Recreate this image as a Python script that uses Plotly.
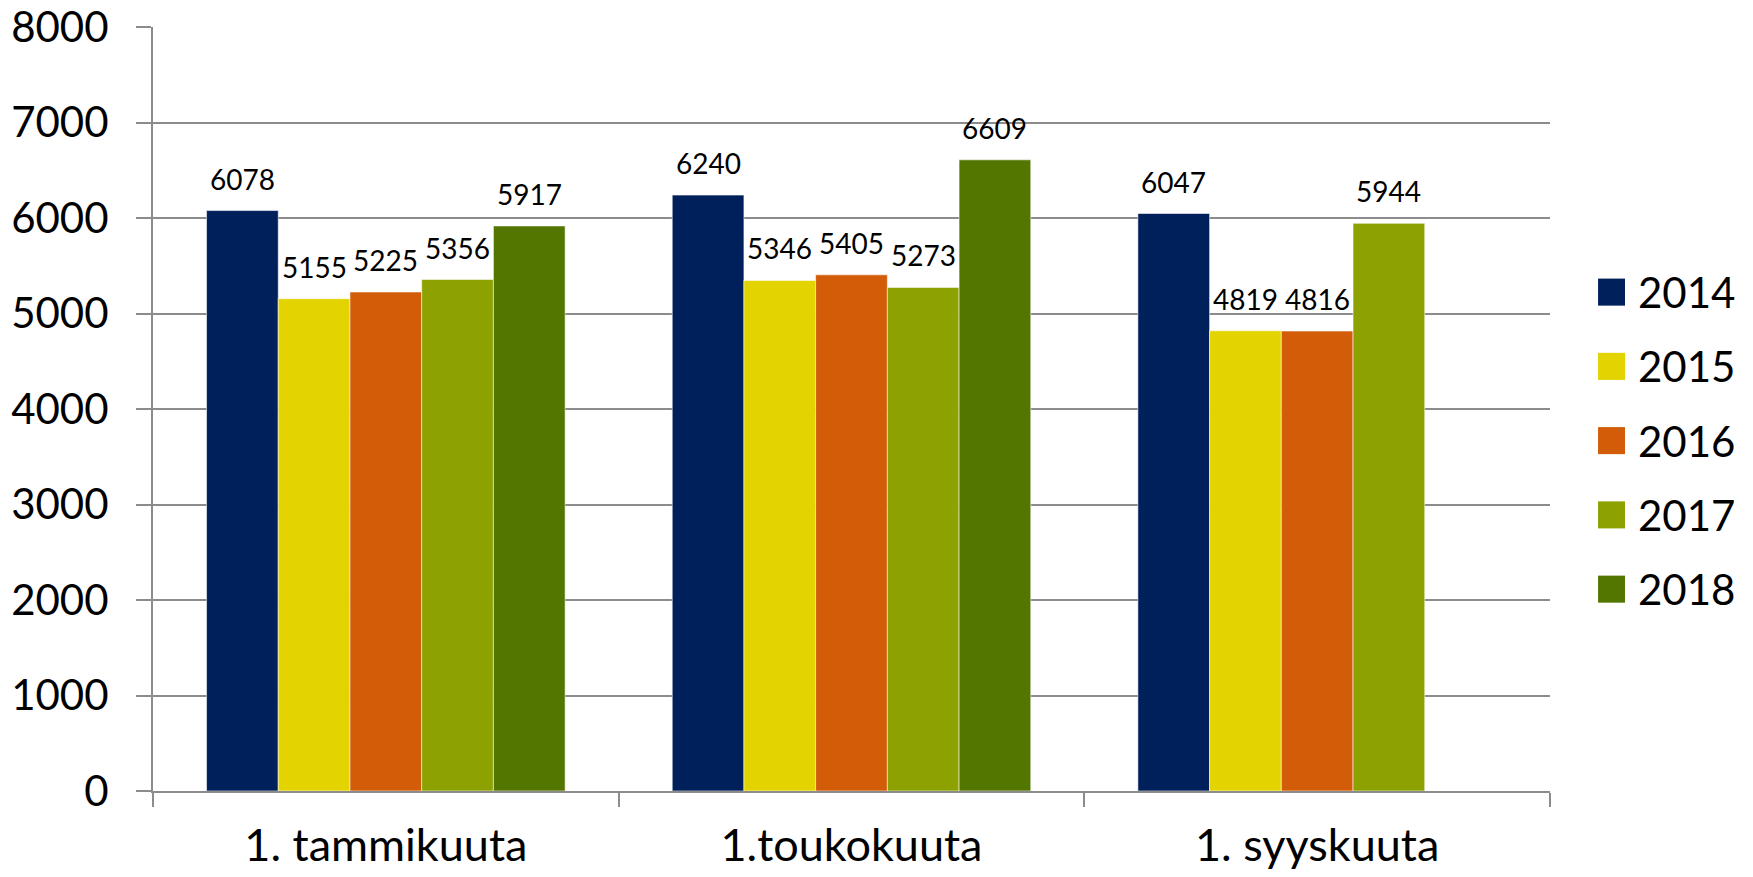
import plotly.graph_objects as go

categories = ["1. tammikuuta", "1.toukokuuta", "1. syyskuuta"]
series_names = ["2014", "2015", "2016", "2017", "2018"]
values_2014 = [6078, 6240, 6047]
values_2015 = [5155, 5346, 4819]
values_2016 = [5225, 5405, 4816]
values_2017 = [5356, 5273, 5944]
values_2018 = [5917, 6609, None]
colors = ["#00205B", "#E3D300", "#D25C08", "#8DA200", "#527600"]
y_ticks = [0, 1000, 2000, 3000, 4000, 5000, 6000, 7000, 8000]

all_values = [values_2014, values_2015, values_2016, values_2017, values_2018]

FONT = "Lato"
GRID = "#8C8C8C"
BARGAP = 0.23

fig = go.Figure()
for name, vals, col in zip(series_names, all_values, colors):
    fig.add_trace(go.Bar(
        x=categories, y=vals, name=name,
        marker=dict(color=col, line=dict(color="rgba(255,255,255,0.55)", width=1)),
        showlegend=False,
    ))

# data labels
n = len(series_names)
annotations = []
for j, vals in enumerate(all_values):
    for i, v in enumerate(vals):
        if v is None:
            continue
        xpos = i - (1 - BARGAP) / 2 + (j + 0.5) * (1 - BARGAP) / n
        annotations.append(dict(
            x=xpos, y=v, xref="x", yref="y", text=str(v), showarrow=False,
            yanchor="middle", xanchor="center", yshift=32,
            font=dict(family=FONT, size=28, color="#000000"),
        ))

# manual legend
shapes = []
lx0, lx1, ltext = 1.0344, 1.0537, 1.0615
ly_top, ly_step, half = 0.653, 0.0972, 0.0177
for k, (name, col) in enumerate(zip(series_names, colors)):
    yc = ly_top - k * ly_step
    shapes.append(dict(type="rect", xref="paper", yref="paper",
                       x0=lx0, x1=lx1, y0=yc - half, y1=yc + half,
                       fillcolor=col, line=dict(width=0)))
    annotations.append(dict(x=ltext, y=yc, xref="paper", yref="paper", text=name,
                            showarrow=False, xanchor="left", yanchor="middle",
                            font=dict(family=FONT, size=42, color="#000000")))

fig.update_layout(
    width=1753, height=877,
    margin=dict(l=153, r=203, t=27, b=86, autoexpand=False),
    paper_bgcolor="white", plot_bgcolor="white",
    barmode="group", bargap=BARGAP, bargroupgap=0,
    showlegend=False,
    annotations=annotations, shapes=shapes,
    font=dict(family=FONT, color="#000000"),
)
fig.update_xaxes(
    type="category", tickson="boundaries", ticks="outside", ticklen=14,
    tickcolor=GRID, tickwidth=2, showline=True, linecolor=GRID, linewidth=2,
    showgrid=False, tickfont=dict(family=FONT, size=45, color="#000000"),
    ticklabelstandoff=14, automargin=False,
)
fig.update_yaxes(
    range=[0, 8000], tickvals=y_ticks, ticktext=[str(t) for t in y_ticks],
    showgrid=True, gridcolor=GRID, gridwidth=2,
    ticks="outside", ticklen=15, tickcolor=GRID, tickwidth=2,
    showline=True, linecolor=GRID, linewidth=2, zeroline=False,
    tickfont=dict(family=FONT, size=42, color="#000000"),
    ticklabelstandoff=19, automargin=False,
)

fig.write_html("out.html", config={"displayModeBar": False},
               post_script="document.body.style.margin='0';document.body.style.overflow='hidden';")
